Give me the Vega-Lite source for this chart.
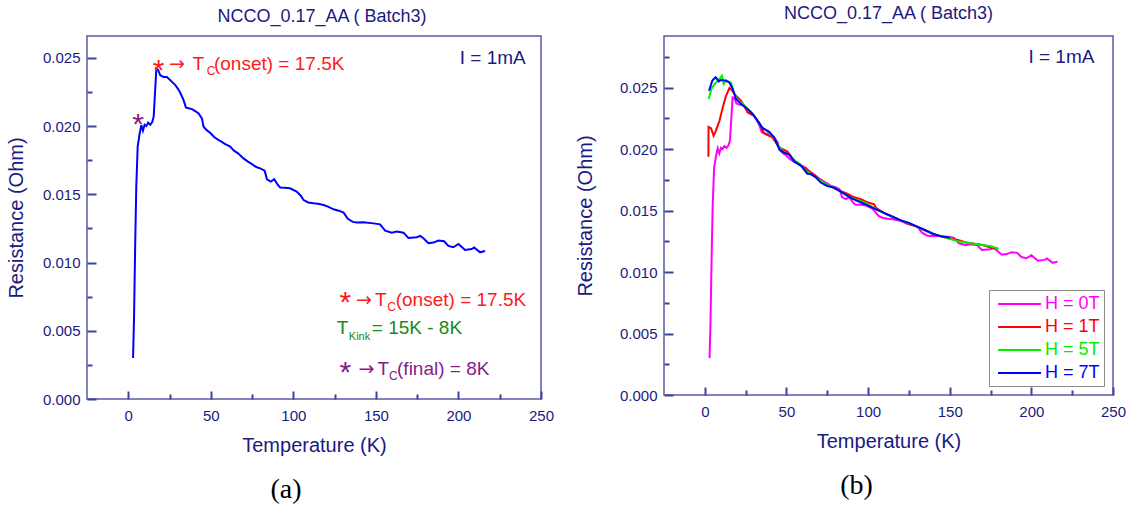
{
 "$schema": "https://vega.github.io/schema/vega-lite/v6.json",
 "background": "white",
 "padding": {"left": 5, "top": 4, "right": 3, "bottom": 3},
 "datasets": {
  "rt": [
   {"H":"H = 0T","T":2.9,"R":0.0030},{"H":"H = 0T","T":3.5,"R":0.0060},{"H":"H = 0T","T":4.2,"R":0.0114},{"H":"H = 0T","T":4.85,"R":0.01556},{"H":"H = 0T","T":5.7,"R":0.01849},{"H":"H = 0T","T":6.9,"R":0.01946},{"H":"H = 0T","T":7.9,"R":0.02007},{"H":"H = 0T","T":8.9,"R":0.01966},{"H":"H = 0T","T":9.9,"R":0.0201},{"H":"H = 0T","T":10.9,"R":0.0200},{"H":"H = 0T","T":12.0,"R":0.02025},{"H":"H = 0T","T":13.3,"R":0.0201},{"H":"H = 0T","T":14.5,"R":0.0203},{"H":"H = 0T","T":15.4,"R":0.0207},{"H":"H = 0T","T":16.0,"R":0.0220},{"H":"H = 0T","T":16.4,"R":0.02287},{"H":"H = 0T","T":17.0,"R":0.02421},{"H":"H = 0T","T":18.0,"R":0.02414},{"H":"H = 0T","T":19.4,"R":0.02372},{"H":"H = 0T","T":21.4,"R":0.0236},{"H":"H = 0T","T":23.4,"R":0.0236},{"H":"H = 0T","T":26.5,"R":0.02324},{"H":"H = 0T","T":28.5,"R":0.0230},{"H":"H = 0T","T":30.0,"R":0.02275},{"H":"H = 0T","T":31.5,"R":0.02244},{"H":"H = 0T","T":33.5,"R":0.0219},{"H":"H = 0T","T":34.9,"R":0.02136},{"H":"H = 0T","T":36.5,"R":0.0213},{"H":"H = 0T","T":38.6,"R":0.02124},{"H":"H = 0T","T":40.5,"R":0.0211},{"H":"H = 0T","T":42.6,"R":0.02092},{"H":"H = 0T","T":44.6,"R":0.02056},{"H":"H = 0T","T":45.6,"R":0.01995},{"H":"H = 0T","T":47.5,"R":0.0197},{"H":"H = 0T","T":49.6,"R":0.01951},{"H":"H = 0T","T":52.0,"R":0.0192},{"H":"H = 0T","T":54.7,"R":0.01897},{"H":"H = 0T","T":56.0,"R":0.0189},{"H":"H = 0T","T":58.5,"R":0.0187},{"H":"H = 0T","T":61.7,"R":0.01849},{"H":"H = 0T","T":64.0,"R":0.0182},{"H":"H = 0T","T":66.5,"R":0.0180},{"H":"H = 0T","T":69.8,"R":0.01763},{"H":"H = 0T","T":72.5,"R":0.0174},{"H":"H = 0T","T":74.9,"R":0.01721},{"H":"H = 0T","T":77.5,"R":0.0170},{"H":"H = 0T","T":79.9,"R":0.0169},{"H":"H = 0T","T":82.6,"R":0.01673},{"H":"H = 0T","T":84.0,"R":0.0161},{"H":"H = 0T","T":86.4,"R":0.01593},{"H":"H = 0T","T":88.4,"R":0.0161},{"H":"H = 0T","T":90.5,"R":0.0157},{"H":"H = 0T","T":92.0,"R":0.0155},{"H":"H = 0T","T":95.0,"R":0.01548},{"H":"H = 0T","T":98.0,"R":0.01544},{"H":"H = 0T","T":102.0,"R":0.0152},{"H":"H = 0T","T":104.5,"R":0.0149},{"H":"H = 0T","T":106.2,"R":0.01458},{"H":"H = 0T","T":109.0,"R":0.0144},{"H":"H = 0T","T":112.2,"R":0.01434},{"H":"H = 0T","T":115.0,"R":0.0143},{"H":"H = 0T","T":118.3,"R":0.01421},{"H":"H = 0T","T":121.0,"R":0.0141},{"H":"H = 0T","T":124.3,"R":0.0139},{"H":"H = 0T","T":127.5,"R":0.0138},{"H":"H = 0T","T":130.4,"R":0.01366},{"H":"H = 0T","T":133.0,"R":0.0132},{"H":"H = 0T","T":136.0,"R":0.01298},{"H":"H = 0T","T":138.4,"R":0.01293},{"H":"H = 0T","T":142.5,"R":0.01295},{"H":"H = 0T","T":148.5,"R":0.01287},{"H":"H = 0T","T":152.5,"R":0.0128},{"H":"H = 0T","T":155.6,"R":0.01234},{"H":"H = 0T","T":159.6,"R":0.01219},{"H":"H = 0T","T":162.6,"R":0.01227},{"H":"H = 0T","T":166.7,"R":0.01219},{"H":"H = 0T","T":169.7,"R":0.0118},{"H":"H = 0T","T":174.8,"R":0.01185},{"H":"H = 0T","T":176.8,"R":0.01195},{"H":"H = 0T","T":178.8,"R":0.01178},{"H":"H = 0T","T":181.8,"R":0.01141},{"H":"H = 0T","T":184.8,"R":0.01146},{"H":"H = 0T","T":187.9,"R":0.01161},{"H":"H = 0T","T":191.3,"R":0.01156},{"H":"H = 0T","T":193.9,"R":0.01122},{"H":"H = 0T","T":196.9,"R":0.01112},{"H":"H = 0T","T":200.0,"R":0.01136},{"H":"H = 0T","T":204.0,"R":0.01092},{"H":"H = 0T","T":208.0,"R":0.01099},{"H":"H = 0T","T":209.5,"R":0.0111},{"H":"H = 0T","T":213.1,"R":0.01075},{"H":"H = 0T","T":216.1,"R":0.01085},
   {"H":"H = 1T","T":2.2,"R":0.01937},{"H":"H = 1T","T":2.3,"R":0.0218},{"H":"H = 1T","T":3.8,"R":0.0217},{"H":"H = 1T","T":5.4,"R":0.02108},{"H":"H = 1T","T":6.8,"R":0.0215},{"H":"H = 1T","T":9.0,"R":0.0223},{"H":"H = 1T","T":11.0,"R":0.0234},{"H":"H = 1T","T":13.0,"R":0.02434},{"H":"H = 1T","T":15.1,"R":0.02497},{"H":"H = 1T","T":16.5,"R":0.0248},{"H":"H = 1T","T":19.1,"R":0.02434},{"H":"H = 1T","T":22.1,"R":0.02394},{"H":"H = 1T","T":24.1,"R":0.02353},{"H":"H = 1T","T":26.2,"R":0.02298},{"H":"H = 1T","T":30.2,"R":0.02271},{"H":"H = 1T","T":33.3,"R":0.02217},{"H":"H = 1T","T":36.3,"R":0.02127},{"H":"H = 1T","T":41.4,"R":0.02095},{"H":"H = 1T","T":45.5,"R":0.02013},{"H":"H = 1T","T":50.6,"R":0.0198},{"H":"H = 1T","T":54.7,"R":0.01905},{"H":"H = 1T","T":60.8,"R":0.0185},{"H":"H = 1T","T":64.9,"R":0.01809},{"H":"H = 1T","T":71.0,"R":0.01747},{"H":"H = 1T","T":75.0,"R":0.0171},{"H":"H = 1T","T":79.2,"R":0.01681},{"H":"H = 1T","T":83.0,"R":0.0166},{"H":"H = 1T","T":87.3,"R":0.01638},{"H":"H = 1T","T":91.0,"R":0.0161},{"H":"H = 1T","T":95.5,"R":0.01592},{"H":"H = 1T","T":99.0,"R":0.0157},{"H":"H = 1T","T":103.7,"R":0.01551},{"H":"H = 1T","T":105.0,"R":0.0152},{"H":"H = 1T","T":110.0,"R":0.0148},{"H":"H = 1T","T":115.0,"R":0.0145},{"H":"H = 1T","T":120.0,"R":0.0142},{"H":"H = 1T","T":125.0,"R":0.0139},{"H":"H = 1T","T":130.0,"R":0.0137},{"H":"H = 1T","T":135.0,"R":0.0134},{"H":"H = 1T","T":140.0,"R":0.0131},{"H":"H = 1T","T":145.0,"R":0.0129},{"H":"H = 1T","T":150.0,"R":0.0127},{"H":"H = 1T","T":155.0,"R":0.0126},{"H":"H = 1T","T":160.0,"R":0.0124},{"H":"H = 1T","T":165.0,"R":0.0123},{"H":"H = 1T","T":170.0,"R":0.0122},{"H":"H = 1T","T":175.0,"R":0.0120},{"H":"H = 1T","T":178.0,"R":0.0119},
   {"H":"H = 5T","T":2.4,"R":0.02407},{"H":"H = 5T","T":4.0,"R":0.0249},{"H":"H = 5T","T":6.1,"R":0.0253},{"H":"H = 5T","T":8.9,"R":0.0257},{"H":"H = 5T","T":10.5,"R":0.02597},{"H":"H = 5T","T":11.6,"R":0.0253},{"H":"H = 5T","T":12.9,"R":0.0256},{"H":"H = 5T","T":16.1,"R":0.0254},{"H":"H = 5T","T":18.1,"R":0.0245},{"H":"H = 5T","T":20.0,"R":0.0240},{"H":"H = 5T","T":23.0,"R":0.0237},{"H":"H = 5T","T":26.0,"R":0.0233},{"H":"H = 5T","T":29.0,"R":0.0229},{"H":"H = 5T","T":32.0,"R":0.0224},{"H":"H = 5T","T":35.0,"R":0.0218},{"H":"H = 5T","T":38.0,"R":0.0215},{"H":"H = 5T","T":42.0,"R":0.0210},{"H":"H = 5T","T":45.0,"R":0.0203},{"H":"H = 5T","T":48.0,"R":0.0198},{"H":"H = 5T","T":52.0,"R":0.0195},{"H":"H = 5T","T":55.0,"R":0.0191},{"H":"H = 5T","T":58.0,"R":0.0188},{"H":"H = 5T","T":62.0,"R":0.0182},{"H":"H = 5T","T":66.0,"R":0.0179},{"H":"H = 5T","T":70.0,"R":0.0175},{"H":"H = 5T","T":75.0,"R":0.0171},{"H":"H = 5T","T":80.0,"R":0.0168},{"H":"H = 5T","T":85.0,"R":0.0164},{"H":"H = 5T","T":90.0,"R":0.0160},{"H":"H = 5T","T":95.0,"R":0.0158},{"H":"H = 5T","T":100.0,"R":0.0155},{"H":"H = 5T","T":105.0,"R":0.0151},{"H":"H = 5T","T":110.0,"R":0.0148},{"H":"H = 5T","T":115.0,"R":0.0145},{"H":"H = 5T","T":120.0,"R":0.0142},{"H":"H = 5T","T":125.0,"R":0.0140},{"H":"H = 5T","T":130.0,"R":0.0137},{"H":"H = 5T","T":135.0,"R":0.0134},{"H":"H = 5T","T":140.0,"R":0.0131},{"H":"H = 5T","T":145.0,"R":0.0129},{"H":"H = 5T","T":150.0,"R":0.0127},{"H":"H = 5T","T":155.0,"R":0.0125},{"H":"H = 5T","T":160.0,"R":0.0124},{"H":"H = 5T","T":165.0,"R":0.0123},{"H":"H = 5T","T":170.0,"R":0.0122},{"H":"H = 5T","T":175.0,"R":0.0121},{"H":"H = 5T","T":180.0,"R":0.0119},
   {"H":"H = 7T","T":2.6,"R":0.02475},{"H":"H = 7T","T":4.6,"R":0.02557},{"H":"H = 7T","T":6.6,"R":0.02584},{"H":"H = 7T","T":8.6,"R":0.0255},{"H":"H = 7T","T":9.9,"R":0.02562},{"H":"H = 7T","T":12.9,"R":0.02557},{"H":"H = 7T","T":15.1,"R":0.0254},{"H":"H = 7T","T":17.1,"R":0.02488},{"H":"H = 7T","T":19.1,"R":0.02407},{"H":"H = 7T","T":22.2,"R":0.02366},{"H":"H = 7T","T":26.2,"R":0.02325},{"H":"H = 7T","T":29.3,"R":0.02284},{"H":"H = 7T","T":32.3,"R":0.0223},{"H":"H = 7T","T":35.4,"R":0.0217},{"H":"H = 7T","T":39.5,"R":0.0214},{"H":"H = 7T","T":42.5,"R":0.02095},{"H":"H = 7T","T":45.6,"R":0.0200},{"H":"H = 7T","T":48.6,"R":0.0197},{"H":"H = 7T","T":51.7,"R":0.01958},{"H":"H = 7T","T":54.7,"R":0.0190},{"H":"H = 7T","T":59.0,"R":0.01864},{"H":"H = 7T","T":62.8,"R":0.0180},{"H":"H = 7T","T":64.8,"R":0.01797},{"H":"H = 7T","T":67.9,"R":0.01773},{"H":"H = 7T","T":71.0,"R":0.01728},{"H":"H = 7T","T":75.0,"R":0.0170},{"H":"H = 7T","T":79.2,"R":0.01687},{"H":"H = 7T","T":85.0,"R":0.0164},{"H":"H = 7T","T":90.0,"R":0.0160},{"H":"H = 7T","T":95.0,"R":0.0157},{"H":"H = 7T","T":100.0,"R":0.0154},{"H":"H = 7T","T":105.0,"R":0.0151},{"H":"H = 7T","T":110.0,"R":0.0148},{"H":"H = 7T","T":115.0,"R":0.0145},{"H":"H = 7T","T":120.0,"R":0.0142},{"H":"H = 7T","T":125.0,"R":0.0140},{"H":"H = 7T","T":130.0,"R":0.0137},{"H":"H = 7T","T":135.0,"R":0.0134},{"H":"H = 7T","T":140.0,"R":0.0131},{"H":"H = 7T","T":145.0,"R":0.0129},{"H":"H = 7T","T":150.0,"R":0.0128}
  ]
 },
 "hconcat": [
  {
   "vconcat": [
    {
     "width": 454, "height": 363,
     "title": {"text": "NCCO_0.17_AA ( Batch3)", "offset": 10, "dx": 8},
     "data": {"name": "rt"},
     "transform": [{"filter": "datum.H === 'H = 0T'"}],
     "layer": [
      {"mark": {"type": "line", "color": "#0000ff", "strokeWidth": 2},
       "encoding": {
        "x": {"field": "T", "type": "quantitative", "scale": {"domain": [-25, 250], "nice": false, "zero": false},
              "axis": {"orient": "bottom", "values": [0, 50, 100, 150, 200, 250], "offset": -8, "ticks": true, "tickSize": 8, "tickWidth": 2, "domain": false, "labelPadding": 9, "title": "Temperature (K)", "titlePadding": 12, "labelFlush": false, "labelOverlap": false, "zindex": 2}},
        "y": {"field": "R", "type": "quantitative", "scale": {"domain": [0, 0.0266], "nice": false, "zero": true},
              "axis": {"orient": "left", "values": [0, 0.005, 0.01, 0.015, 0.02, 0.025], "format": ".3f", "offset": -9, "ticks": true, "tickSize": 9, "tickWidth": 2, "domain": false, "labelPadding": 7, "title": "Resistance (Ohm)", "titlePadding": 16, "labelOverlap": false, "zindex": 2}}
       }},
      {"data": {"values": [{}]},
       "mark": {"type": "text", "text": "I = 1mA", "align": "left", "baseline": "alphabetic", "fontSize": 19, "color": "#1a1a80"},
       "encoding": {
        "x": {"datum": 200.8, "type": "quantitative", "axis": {"orient": "bottom", "values": [25, 75, 125, 175, 225], "offset": -5, "ticks": true, "tickSize": 5, "tickWidth": 2, "labels": false, "domain": false, "title": null, "zindex": 2}},
        "y": {"datum": 0.02458, "type": "quantitative", "axis": {"orient": "left", "values": [0.0025, 0.0075, 0.0125, 0.0175, 0.0225], "offset": -5, "ticks": true, "tickSize": 5, "tickWidth": 2, "labels": false, "domain": false, "title": null, "zindex": 2}}
       }},
      {"data": {"values": [{}]}, "mark": {"type": "text", "text": "*", "align": "center", "baseline": "alphabetic", "fontSize": 30, "color": "#ff1a1a"}, "encoding": {"x": {"datum": 18.3, "axis": null}, "y": {"datum": 0.02334, "axis": null}}},
      {"data": {"values": [{}]}, "mark": {"type": "text", "text": "→", "align": "left", "baseline": "alphabetic", "fontSize": 19, "font": "DejaVu Sans", "color": "#ff1a1a"}, "encoding": {"x": {"datum": 24.6, "axis": null}, "y": {"datum": 0.02411, "axis": null}}},
      {"data": {"values": [{}]}, "mark": {"type": "text", "text": "T", "align": "left", "baseline": "alphabetic", "fontSize": 19, "color": "#ff1a1a"}, "encoding": {"x": {"datum": 38.9, "axis": null}, "y": {"datum": 0.02411, "axis": null}}},
      {"data": {"values": [{}]}, "mark": {"type": "text", "text": "C", "align": "left", "baseline": "alphabetic", "fontSize": 12, "color": "#ff1a1a"}, "encoding": {"x": {"datum": 47.6, "axis": null}, "y": {"datum": 0.02372, "axis": null}}},
      {"data": {"values": [{}]}, "mark": {"type": "text", "text": "(onset) = 17.5K", "align": "left", "baseline": "alphabetic", "fontSize": 19, "color": "#ff1a1a"}, "encoding": {"x": {"datum": 51.9, "axis": null}, "y": {"datum": 0.02411, "axis": null}}},
      {"data": {"values": [{}]}, "mark": {"type": "text", "text": "*", "align": "center", "baseline": "alphabetic", "fontSize": 30, "color": "#85208a"}, "encoding": {"x": {"datum": 5.9, "axis": null}, "y": {"datum": 0.01939, "axis": null}}},
      {"data": {"values": [{}]}, "mark": {"type": "text", "text": "*", "align": "center", "baseline": "alphabetic", "fontSize": 30, "color": "#ff1a1a"}, "encoding": {"x": {"datum": 131.5, "axis": null}, "y": {"datum": 0.006342, "axis": null}}},
      {"data": {"values": [{}]}, "mark": {"type": "text", "text": "→", "align": "left", "baseline": "alphabetic", "fontSize": 19, "font": "DejaVu Sans", "color": "#ff1a1a"}, "encoding": {"x": {"datum": 138.0, "axis": null}, "y": {"datum": 0.006825, "axis": null}}},
      {"data": {"values": [{}]}, "mark": {"type": "text", "text": "T", "align": "left", "baseline": "alphabetic", "fontSize": 19, "color": "#ff1a1a"}, "encoding": {"x": {"datum": 149.5, "axis": null}, "y": {"datum": 0.006825, "axis": null}}},
      {"data": {"values": [{}]}, "mark": {"type": "text", "text": "C", "align": "left", "baseline": "alphabetic", "fontSize": 12, "color": "#ff1a1a"}, "encoding": {"x": {"datum": 156.9, "axis": null}, "y": {"datum": 0.006416, "axis": null}}},
      {"data": {"values": [{}]}, "mark": {"type": "text", "text": "(onset) = 17.5K", "align": "left", "baseline": "alphabetic", "fontSize": 19, "color": "#ff1a1a"}, "encoding": {"x": {"datum": 162.0, "axis": null}, "y": {"datum": 0.006825, "axis": null}}},
      {"data": {"values": [{}]}, "mark": {"type": "text", "text": "T", "align": "left", "baseline": "alphabetic", "fontSize": 19, "color": "#178a17"}, "encoding": {"x": {"datum": 126.3, "axis": null}, "y": {"datum": 0.004755, "axis": null}}},
      {"data": {"values": [{}]}, "mark": {"type": "text", "text": "Kink", "align": "left", "baseline": "alphabetic", "fontSize": 11, "color": "#178a17"}, "encoding": {"x": {"datum": 133.6, "axis": null}, "y": {"datum": 0.004338, "axis": null}}},
      {"data": {"values": [{}]}, "mark": {"type": "text", "text": "= 15K - 8K", "align": "left", "baseline": "alphabetic", "fontSize": 19, "color": "#178a17"}, "encoding": {"x": {"datum": 147.5, "axis": null}, "y": {"datum": 0.004755, "axis": null}}},
      {"data": {"values": [{}]}, "mark": {"type": "text", "text": "*", "align": "center", "baseline": "alphabetic", "fontSize": 30, "color": "#85208a"}, "encoding": {"x": {"datum": 131.5, "axis": null}, "y": {"datum": 0.001222, "axis": null}}},
      {"data": {"values": [{}]}, "mark": {"type": "text", "text": "→", "align": "left", "baseline": "alphabetic", "fontSize": 19, "font": "DejaVu Sans", "color": "#85208a"}, "encoding": {"x": {"datum": 139.5, "axis": null}, "y": {"datum": 0.001778, "axis": null}}},
      {"data": {"values": [{}]}, "mark": {"type": "text", "text": "T", "align": "left", "baseline": "alphabetic", "fontSize": 19, "color": "#85208a"}, "encoding": {"x": {"datum": 151.0, "axis": null}, "y": {"datum": 0.001778, "axis": null}}},
      {"data": {"values": [{}]}, "mark": {"type": "text", "text": "C", "align": "left", "baseline": "alphabetic", "fontSize": 12, "color": "#85208a"}, "encoding": {"x": {"datum": 158.0, "axis": null}, "y": {"datum": 0.001412, "axis": null}}},
      {"data": {"values": [{}]}, "mark": {"type": "text", "text": "(final) = 8K", "align": "left", "baseline": "alphabetic", "fontSize": 19, "color": "#85208a"}, "encoding": {"x": {"datum": 162.8, "axis": null}, "y": {"datum": 0.001778, "axis": null}}}
     ],
     "resolve": {"axis": {"x": "independent", "y": "independent"}}
    }
   ],
   "title": {"text": "(a)", "orient": "bottom", "font": "Liberation Serif", "fontSize": 28, "color": "#000000", "offset": 20, "anchor": "middle", "dx": 6}
  },
  {
   "vconcat": [
    {
     "width": 449, "height": 359,
     "title": {"text": "NCCO_0.17_AA ( Batch3)", "offset": 13, "dx": 0},
     "data": {"name": "rt"},
     "layer": [
      {"mark": {"type": "line", "strokeWidth": 2},
       "encoding": {
        "x": {"field": "T", "type": "quantitative", "scale": {"domain": [-25, 250], "nice": false, "zero": false},
              "axis": {"orient": "bottom", "values": [0, 50, 100, 150, 200, 250], "offset": -8, "ticks": true, "tickSize": 8, "tickWidth": 2, "domain": false, "labelPadding": 9, "title": "Temperature (K)", "titlePadding": 12, "labelFlush": false, "labelOverlap": false, "zindex": 2}},
        "y": {"field": "R", "type": "quantitative", "scale": {"domain": [0, 0.0292], "nice": false, "zero": true},
              "axis": {"orient": "left", "values": [0, 0.005, 0.01, 0.015, 0.02, 0.025], "format": ".3f", "offset": -9, "ticks": true, "tickSize": 9, "tickWidth": 2, "domain": false, "labelPadding": 7, "title": "Resistance (Ohm)", "titlePadding": 24, "labelOverlap": false, "zindex": 2}},
        "color": {"field": "H", "type": "nominal",
                  "scale": {"domain": ["H = 0T", "H = 1T", "H = 5T", "H = 7T"], "range": ["#ff00ff", "#ff0000", "#00ee00", "#0000ff"]},
                  "legend": {"orient": "bottom-right", "offset": 9, "title": null, "strokeColor": "#8c8c8c", "fillColor": "#ffffff", "padding": 4, "symbolType": "M-0.55,0H4.22", "symbolSize": 324, "symbolStrokeWidth": 2, "labelFontSize": 18, "labelFont": "Liberation Sans", "rowPadding": 4, "labelOffset": 32,
                             "labelColor": {"expr": "datum.value === 'H = 0T' ? '#ff00ff' : datum.value === 'H = 1T' ? '#ff0000' : datum.value === 'H = 5T' ? '#00ee00' : '#0000ff'"}}}
       }},
      {"data": {"values": [{}]},
       "mark": {"type": "text", "text": "I = 1mA", "align": "left", "baseline": "alphabetic", "fontSize": 19, "color": "#1a1a80"},
       "encoding": {
        "x": {"datum": 198.2, "type": "quantitative", "axis": {"orient": "bottom", "values": [25, 75, 125, 175, 225], "offset": -5, "ticks": true, "tickSize": 5, "tickWidth": 2, "labels": false, "domain": false, "title": null, "zindex": 2}},
        "y": {"datum": 0.02698, "type": "quantitative", "axis": {"orient": "left", "values": [0.0025, 0.0075, 0.0125, 0.0175, 0.0225, 0.0275], "offset": -5, "ticks": true, "tickSize": 5, "tickWidth": 2, "labels": false, "domain": false, "title": null, "zindex": 2}}
       }}
     ],
     "resolve": {"axis": {"x": "independent", "y": "independent"}, "legend": {"color": "independent"}}
    }
   ],
   "resolve": {"legend": {"color": "independent"}},
   "title": {"text": "(b)", "orient": "bottom", "font": "Liberation Serif", "fontSize": 28, "color": "#000000", "offset": 20, "anchor": "middle", "dx": 6}
  }
 ],
 "resolve": {"legend": {"color": "independent"}},
 "spacing": 19,
 "config": {
  "view": {"stroke": "#5a5aaa", "strokeWidth": 1.5},
  "text": {"font": "Liberation Sans"},
  "axis": {"ticks": true, "tickColor": "#4040a0", "tickOpacity": 1, "labelColor": "#1a1a80", "titleColor": "#1a1a80", "labelFont": "Liberation Sans", "titleFont": "Liberation Sans", "labelFontSize": 15, "titleFontSize": 20, "titleFontWeight": "normal", "grid": false},
  "title": {"font": "Liberation Sans", "fontSize": 18, "fontWeight": "normal", "color": "#1a1a80"}
 }
}
